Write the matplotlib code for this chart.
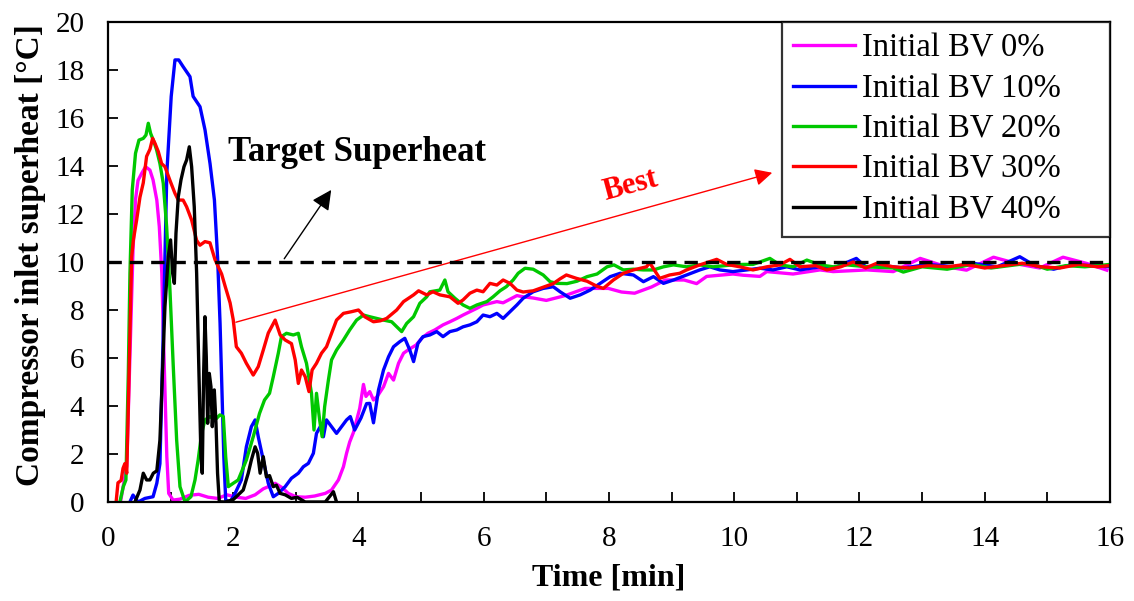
import matplotlib
matplotlib.use("Agg")
import matplotlib.pyplot as plt

COL_BV0 = "#FF00FF"
COL_BV10 = "#0000FF"
COL_BV20 = "#00C800"
COL_BV30 = "#FF0000"
COL_BV40 = "#000000"

TARGET = 10.0

# time [min] / superheat [C]
t_bv0 = [0.20, 0.30, 0.35, 0.40, 0.44, 0.48, 0.54, 0.60, 0.67, 0.72, 0.78, 0.82, 0.86, 0.88,
         0.91, 0.94, 0.97, 1.04, 1.15, 1.30, 1.45, 1.60, 1.75, 1.90, 2.05, 2.20, 2.35, 2.48,
         2.56, 2.67, 2.78, 2.88, 3.00, 3.15, 3.30, 3.47, 3.57, 3.68, 3.76, 3.81, 3.86, 3.92,
         3.97, 4.02, 4.08, 4.12, 4.18, 4.24, 4.30, 4.40, 4.48, 4.56, 4.64, 4.72, 4.80, 4.92,
         5.01, 5.11, 5.22, 5.35, 5.46, 5.57, 5.67, 5.78, 5.89, 5.99, 6.10, 6.21, 6.31, 6.42,
         6.53, 6.63, 6.79, 7.00, 7.30, 7.62, 7.99, 8.20, 8.41, 8.68, 8.90, 9.20, 9.40, 9.56,
         9.98, 10.14, 10.41, 10.52, 10.94, 11.37, 11.58, 12.12, 12.54, 12.97, 13.39, 13.71,
         14.14, 14.56, 14.88, 15.25, 15.63, 15.95]
sh_bv0 = [0.0, 1.5, 6.0, 10.5, 12.6, 13.4, 13.7, 13.97, 13.83, 13.42, 12.58, 11.47, 9.53, 7.45,
          4.67, 1.89, 0.36, 0.08, 0.12, 0.28, 0.32, 0.20, 0.15, 0.30, 0.20, 0.15, 0.30, 0.55,
          0.64, 0.78, 0.60, 0.36, 0.22, 0.20, 0.25, 0.36, 0.50, 0.92, 1.47, 2.03, 2.5, 2.9,
          3.4, 3.9, 4.9, 4.4, 4.6, 4.25, 4.4, 4.8, 5.36, 5.08, 5.78, 6.2, 6.35, 6.54,
          6.82, 7.03, 7.17, 7.38, 7.51, 7.65, 7.79, 7.93, 8.07, 8.21, 8.28, 8.35, 8.30, 8.45,
          8.60, 8.55, 8.50, 8.40, 8.60, 8.90, 8.90, 8.75, 8.70, 8.96, 9.25, 9.25, 9.10, 9.40,
          9.50, 9.45, 9.40, 9.60, 9.50, 9.67, 9.60, 9.67, 9.60, 10.15, 9.80, 9.66,
          10.20, 9.90, 9.75, 10.20, 9.94, 9.66]

t_bv10 = [0.35, 0.40, 0.48, 0.59, 0.72, 0.78, 0.83, 0.88, 0.94, 1.01, 1.07, 1.13, 1.20, 1.31,
          1.36, 1.47, 1.55, 1.63, 1.70, 1.75, 1.79, 1.82, 1.85, 1.88, 1.95, 2.03, 2.13, 2.21,
          2.29, 2.35, 2.40, 2.48, 2.56, 2.64, 2.72, 2.83, 2.93, 3.04, 3.12, 3.20, 3.28, 3.33,
          3.39, 3.44, 3.49, 3.57, 3.65, 3.73, 3.81, 3.87, 3.94, 4.04, 4.13, 4.18, 4.24, 4.32,
          4.40, 4.48, 4.56, 4.66, 4.74, 4.82, 4.88, 4.95, 5.03, 5.14, 5.25, 5.35, 5.46, 5.57,
          5.67, 5.78, 5.89, 5.99, 6.10, 6.21, 6.31, 6.42, 6.53, 6.63, 6.79, 6.95, 7.11, 7.22,
          7.38, 7.54, 7.70, 7.86, 8.02, 8.18, 8.39, 8.55, 8.71, 8.87, 9.03, 9.24, 9.45, 9.61,
          9.77, 9.98, 10.20, 10.41, 10.62, 10.84, 11.05, 11.37, 11.58, 11.95, 12.10, 12.37,
          12.70, 13.10, 13.50, 13.80, 14.20, 14.56, 14.80, 15.10, 15.40, 15.70, 16.00]
sh_bv10 = [0.0, 0.29, 0.0, 0.15, 0.22, 0.78, 1.6, 6.75, 13.7, 16.9, 18.42, 18.42, 18.14, 17.72,
           16.9, 16.47, 15.5, 14.1, 12.58, 10.22, 7.45, 4.67, 1.89, 0.08, 0.0, 0.36, 0.92, 2.3,
           3.14, 3.42, 2.72, 1.75, 0.78, 0.22, 0.36, 0.64, 0.99, 1.2, 1.47, 1.61, 2.03, 2.86,
           3.14, 2.72, 3.42, 3.14, 2.86, 3.14, 3.42, 3.56, 3.0, 3.5, 4.1, 4.11, 3.3, 4.67,
           5.5, 6.05, 6.47, 6.68, 6.82, 6.33, 5.85, 6.61, 6.89, 6.96, 7.1, 6.89, 7.1, 7.17,
           7.3, 7.38, 7.51, 7.79, 7.72, 7.86, 7.65, 7.93, 8.21, 8.49, 8.76, 8.9, 8.97, 8.76,
           8.49, 8.63, 8.83, 9.11, 9.39, 9.53, 9.46, 9.18, 9.39, 9.11, 9.25, 9.46, 9.67, 9.8,
           9.67, 9.6, 9.67, 9.74, 9.67, 9.8, 9.67, 9.8, 9.74, 10.15, 9.8, 9.85,
           9.75, 9.9, 9.8, 9.95, 9.8, 10.22, 9.85, 9.7, 9.9, 9.85, 9.8]

t_bv20 = [0.19, 0.245, 0.287, 0.325, 0.351, 0.388, 0.44, 0.495, 0.564, 0.607, 0.644, 0.681, 0.724,
          0.777, 0.83, 0.883, 0.937, 0.99, 1.043, 1.097, 1.15, 1.23, 1.325, 1.39, 1.44, 1.496,
          1.549, 1.629, 1.709, 1.788, 1.842, 1.88, 1.922, 2.0, 2.08, 2.21, 2.32, 2.42, 2.50,
          2.58, 2.64, 2.72, 2.77, 2.85, 2.96, 3.04, 3.09, 3.17, 3.25, 3.29, 3.33, 3.38, 3.42,
          3.46, 3.52, 3.57, 3.65, 3.76, 3.86, 3.97, 4.08, 4.18, 4.29, 4.40, 4.53, 4.69, 4.77,
          4.88, 4.98, 5.09, 5.14, 5.30, 5.38, 5.43, 5.54, 5.67, 5.78, 5.89, 6.05, 6.15, 6.26,
          6.36, 6.47, 6.55, 6.66, 6.79, 6.95, 7.06, 7.17, 7.33, 7.49, 7.65, 7.81, 7.97, 8.08,
          8.23, 8.39, 8.55, 8.71, 8.87, 9.03, 9.24, 9.45, 9.66, 9.98, 10.14, 10.30, 10.57,
          10.73, 10.94, 11.16, 11.37, 11.58, 11.80, 12.12, 12.54, 12.70, 13.00, 13.40, 13.80,
          14.10, 14.40, 14.70, 15.00, 15.30, 15.60, 16.00]
sh_bv20 = [0.0, 0.64, 0.92, 5.36, 9.53, 13.0, 14.53, 15.08, 15.15, 15.29, 15.78, 15.36, 15.08,
           14.67, 14.1, 13.28, 11.47, 8.83, 5.64, 2.58, 0.64, 0.01, 0.22, 0.92, 1.75, 2.86,
           3.42, 3.56, 3.42, 3.63, 3.56, 1.89, 0.64, 0.78, 0.92, 1.75, 2.72, 3.69, 4.25,
           4.53, 5.22, 6.2, 6.89, 7.03, 6.96, 7.03, 6.47, 5.78, 4.53, 3.0, 4.53, 3.42, 2.72,
           3.97, 5.08, 5.92, 6.33, 6.75, 7.17, 7.58, 7.79, 7.72, 7.65, 7.58, 7.51, 7.1, 7.44,
           7.72, 8.28, 8.55, 8.76, 8.83, 9.25, 8.76, 8.49, 8.21, 8.07, 8.21, 8.35, 8.55, 8.8,
           8.97, 9.25, 9.53, 9.74, 9.7, 9.46, 9.18, 9.11, 9.1, 9.2, 9.39, 9.5, 9.8, 9.88,
           9.67, 9.7, 9.67, 9.67, 9.8, 9.88, 9.8, 9.88, 9.8, 9.88, 9.9, 9.9, 10.15,
           9.88, 9.8, 10.08, 9.88, 9.8, 9.88, 9.8, 9.75, 9.58, 9.8, 9.7, 9.9,
           9.75, 9.85, 9.95, 9.7, 9.85, 9.8, 9.9]

t_bv30 = [0.13, 0.16, 0.21, 0.24, 0.27, 0.30, 0.325, 0.378, 0.405, 0.458, 0.511, 0.564, 0.617,
          0.671, 0.713, 0.75, 0.804, 0.857, 0.91, 0.99, 1.07, 1.123, 1.20, 1.256, 1.336, 1.416,
          1.469, 1.549, 1.629, 1.709, 1.815, 1.87, 1.95, 2.0, 2.05, 2.13, 2.21, 2.32, 2.40,
          2.48, 2.56, 2.67, 2.75, 2.83, 2.93, 2.99, 3.04, 3.09, 3.15, 3.21, 3.26, 3.33, 3.41,
          3.49, 3.57, 3.65, 3.76, 3.89, 4.0, 4.10, 4.24, 4.35, 4.45, 4.61, 4.72, 4.88, 4.96,
          5.09, 5.19, 5.30, 5.46, 5.59, 5.67, 5.78, 5.89, 5.99, 6.10, 6.21, 6.31, 6.42, 6.53,
          6.63, 6.79, 6.95, 7.11, 7.22, 7.32, 7.48, 7.65, 7.80, 7.91, 8.07, 8.23, 8.39, 8.60,
          8.65, 8.81, 8.97, 9.13, 9.24, 9.45, 9.72, 9.88, 10.09, 10.30, 10.52, 10.73, 10.89,
          11.05, 11.30, 11.48, 11.70, 11.90, 12.10, 12.27, 12.54, 12.80, 13.10, 13.40, 13.70,
          14.00, 14.30, 14.60, 14.90, 15.20, 15.50, 15.80, 16.00]
sh_bv30 = [0.0, 0.8, 0.9, 1.4, 1.6, 1.2, 3.97, 10.2, 10.9, 11.75, 12.7, 13.3, 14.4,
           14.7, 15.15, 14.95, 14.6, 14.1, 13.97, 13.4, 12.86, 12.58, 12.58, 12.3, 11.75, 10.9,
           10.7, 10.85, 10.8, 10.1, 9.5, 9.0, 8.3, 7.6, 6.47, 6.2, 5.78, 5.29, 5.64,
           6.33, 7.04, 7.58, 6.96, 6.75, 6.6, 5.92, 4.94, 5.5, 5.22, 4.6, 5.5, 5.78, 6.2,
           6.47, 7.03, 7.58, 7.86, 7.93, 8.0, 7.72, 7.51, 7.55, 7.65, 8.0, 8.35, 8.63, 8.8,
           8.63, 8.76, 8.63, 8.55, 8.28, 8.42, 8.7, 8.83, 8.76, 9.11, 9.04, 9.25, 9.11, 8.83,
           8.75, 8.8, 8.95, 9.1, 9.3, 9.46, 9.32, 9.2, 9.0, 8.9, 9.25, 9.53, 9.67, 9.8,
           9.97, 9.32, 9.46, 9.53, 9.67, 9.88, 10.11, 9.9, 9.8, 9.67, 9.8, 9.88, 10.11,
           9.8, 9.85, 9.67, 9.8, 10.0, 9.75, 9.94, 9.8, 9.75, 9.85, 9.8, 9.9,
           9.75, 9.85, 9.95, 9.8, 9.75, 9.9, 9.8, 9.85]

t_bv40 = [0.43, 0.511, 0.564, 0.617, 0.67, 0.724, 0.78, 0.83, 0.87, 0.91, 0.963, 1.0, 1.033,
          1.06, 1.086, 1.123, 1.166, 1.214, 1.256, 1.299, 1.336, 1.378, 1.416, 1.453, 1.485,
          1.506, 1.528, 1.549, 1.57, 1.592, 1.618, 1.645, 1.666, 1.698, 1.725, 1.75, 1.778,
          1.87, 2.0, 2.16, 2.24, 2.29, 2.35, 2.39, 2.43, 2.48, 2.53, 2.58, 2.64, 2.69, 2.75,
          2.83, 2.93, 3.02, 3.15, 3.47, 3.60, 3.65]
sh_bv40 = [0.0, 0.5, 1.2, 0.92, 0.92, 1.2, 1.3, 2.58, 5.36, 8.14, 10.22, 10.92, 9.53,
           9.11, 11.2, 12.72, 13.42, 13.97, 14.25, 14.8, 13.97, 12.3, 9.53, 5.36, 1.89,
           1.2, 5.36, 7.72, 6.05, 3.28, 5.36, 4.8, 3.14, 4.67, 3.28, 1.2, 0.01,
           0.0, 0.1, 0.5, 1.2, 1.75, 2.3, 2.03, 1.2, 1.89, 1.05, 1.1, 0.64, 0.7, 0.36,
           0.3, 0.15, 0.2, 0.0, 0.0, 0.43, 0.0]

series = [
    (t_bv0, sh_bv0, COL_BV0, "Initial BV 0%"),
    (t_bv10, sh_bv10, COL_BV10, "Initial BV 10%"),
    (t_bv20, sh_bv20, COL_BV20, "Initial BV 20%"),
    (t_bv30, sh_bv30, COL_BV30, "Initial BV 30%"),
    (t_bv40, sh_bv40, COL_BV40, "Initial BV 40%"),
]

plt.rcParams["font.family"] = ["Liberation Serif", "DejaVu Serif"]

fig = plt.figure(figsize=(11.34, 6.01), dpi=100)
ax = fig.add_axes([0.0952, 0.1647, 0.8836, 0.7987])

for t, sh, col, lab in series:
    ax.plot(t, sh, color=col, linewidth=2.4, label=lab)

ax.axhline(TARGET, color="black", linewidth=2.4, linestyle=(0, (4, 2.4)), zorder=5)

# target superheat arrow + label
ax.annotate("", xy=(3.59, 13.1), xytext=(2.79, 10.04),
            arrowprops=dict(arrowstyle="-|>", color="black", lw=1.0, mutation_scale=30))
ax.text(3.98, 14.58, "Target Superheat", ha="center", va="center",
        fontsize=25, fontweight="bold")

# best arrow
ax.annotate("", xy=(10.65, 13.75), xytext=(2.0, 7.46),
            arrowprops=dict(arrowstyle="-|>", color="red", lw=1.0, mutation_scale=26))
ax.text(8.34, 13.2, "Best", color="red", ha="center", va="center",
        fontsize=22, fontweight="bold", rotation=15)

ax.set_xlim(0, 16)
ax.set_ylim(0, 20)
ax.set_xticks(range(0, 17, 2))
ax.set_xticks(range(1, 16, 2), minor=True)
ax.set_yticks(range(0, 21, 2))
ax.tick_params(axis="both", which="both", direction="in", labelsize=21, width=1.3)
ax.tick_params(axis="x", which="major", length=7, pad=17)
ax.tick_params(axis="x", which="minor", length=7)
ax.tick_params(axis="y", which="major", length=7, pad=17)
for sp in ax.spines.values():
    sp.set_linewidth(1.6)

ax.set_xlabel("Time [min]", fontsize=23, fontweight="bold")
ax.set_ylabel("Compressor inlet superheat [°C]", fontsize=24, fontweight="bold")
ax.xaxis.set_label_coords(0.5, -0.128)
ax.yaxis.set_label_coords(-0.062, 0.515)

leg = ax.legend(loc="upper left", bbox_to_anchor=(0.6727, 0.0, 0.3273, 1.0), mode="expand",
                fontsize=23.5, frameon=True, fancybox=False, borderaxespad=0,
                handlelength=1.9, handletextpad=0.2, labelspacing=0.3, borderpad=0.35)
leg.get_frame().set_edgecolor("black")
leg.get_frame().set_linewidth(1.6)

plt.savefig("out.png", dpi=100)
